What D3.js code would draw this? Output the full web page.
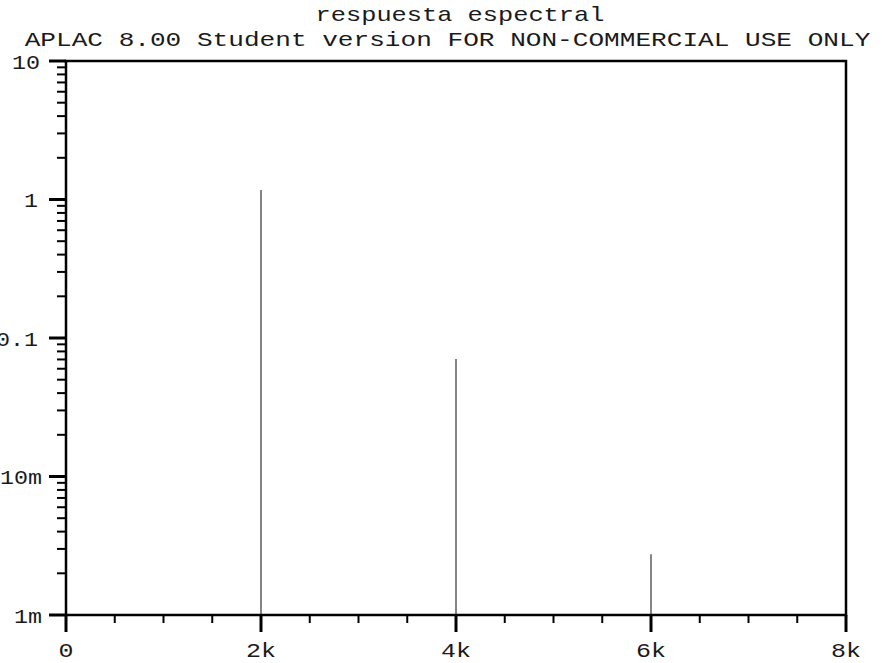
<!DOCTYPE html>
<html><head><meta charset="utf-8">
<script src="https://cdn.jsdelivr.net/npm/d3@7"></script>
<style>body{margin:0;background:#fff}svg{display:block}</style>
</head><body>
<svg id="c" width="882" height="663"></svg>
<script>
const titleLines = ["respuesta espectral", "APLAC 8.00 Student version FOR NON-COMMERCIAL USE ONLY"];
const freqs = [2000, 4000, 6000];
const amps = [1.17, 0.0705, 0.00275];
const yTickValues = [0.001, 0.01, 0.1, 1, 10];
const yTickLabels = ["1m", "10m", "0.1", "1", "10"];
const xTickValues = [0, 2000, 4000, 6000, 8000];
const xTickLabels = ["0", "2k", "4k", "6k", "8k"];
const xMinorStep = 500;

const L = 66, R = 846, T = 61, B = 615;
const svg = d3.select("#c");
const x = d3.scaleLinear().domain([0, 8000]).range([L, R]);
const y = d3.scaleLog().domain([0.001, 10]).range([B, T]);
const font = "'Liberation Mono', 'DejaVu Sans Mono', monospace";
const txtFill = "#1a1a1a";

// titles
svg.append("text").attr("x", 460).attr("y", 21).attr("text-anchor", "middle")
  .attr("font-family", font).attr("font-size", 21).attr("fill", txtFill)
  .attr("textLength", titleLines[0].length * 15.2).attr("lengthAdjust", "spacingAndGlyphs")
  .text(titleLines[0]);
svg.append("text").attr("x", 447.5).attr("y", 45.5).attr("text-anchor", "middle")
  .attr("font-family", font).attr("font-size", 21).attr("fill", txtFill)
  .attr("textLength", titleLines[1].length * 15.66).attr("lengthAdjust", "spacingAndGlyphs")
  .text(titleLines[1]);

// spectral lines
svg.append("g").selectAll("line").data(freqs).join("line")
  .attr("x1", d => x(d)).attr("x2", d => x(d))
  .attr("y1", y(0.001)).attr("y2", (d, i) => y(amps[i]))
  .attr("stroke", "#333").attr("stroke-width", 1.2);

// minor y ticks
const yMinor = [];
for (let e = -3; e < 1; e++) for (let m = 2; m <= 9; m++) yMinor.push(m * Math.pow(10, e));
svg.append("g").selectAll("line").data(yMinor).join("line")
  .attr("x1", L - 9).attr("x2", L).attr("y1", d => y(d)).attr("y2", d => y(d))
  .attr("stroke", "#000").attr("stroke-width", 2);
// major y ticks
svg.append("g").selectAll("line").data(yTickValues).join("line")
  .attr("x1", L - 17).attr("x2", L).attr("y1", d => y(d)).attr("y2", d => y(d))
  .attr("stroke", "#000").attr("stroke-width", 3);
svg.append("g").selectAll("text").data(yTickValues).join("text")
  .attr("x", (d, i) => yTickLabels[i].endsWith("m") ? 42 : (yTickLabels[i] === "10" ? 40 : 38))
  .attr("y", d => y(d) + 7.5).attr("text-anchor", "end")
  .attr("font-family", font).attr("font-size", 21).attr("fill", txtFill)
  .attr("textLength", (d, i) => yTickLabels[i].length * 14).attr("lengthAdjust", "spacingAndGlyphs")
  .text((d, i) => yTickLabels[i]);

// minor x ticks
const xMinor = d3.range(0, 8001, xMinorStep).filter(v => v % 2000 !== 0);
svg.append("g").selectAll("line").data(xMinor).join("line")
  .attr("x1", d => x(d)).attr("x2", d => x(d)).attr("y1", B).attr("y2", B + 8)
  .attr("stroke", "#000").attr("stroke-width", 2);
svg.append("g").selectAll("line").data(xTickValues).join("line")
  .attr("x1", d => x(d)).attr("x2", d => x(d)).attr("y1", B).attr("y2", B + 17)
  .attr("stroke", "#000").attr("stroke-width", 3);
svg.append("g").selectAll("text").data(xTickValues).join("text")
  .attr("x", d => x(d)).attr("y", 657).attr("text-anchor", "middle")
  .attr("font-family", font).attr("font-size", 21).attr("fill", txtFill)
  .attr("textLength", (d, i) => xTickLabels[i].length * 15).attr("lengthAdjust", "spacingAndGlyphs")
  .text((d, i) => xTickLabels[i]);

// frame
svg.append("rect").attr("x", L).attr("y", T).attr("width", R - L).attr("height", B - T)
  .attr("fill", "none").attr("stroke", "#000").attr("stroke-width", 2.5);
</script>
</body></html>
